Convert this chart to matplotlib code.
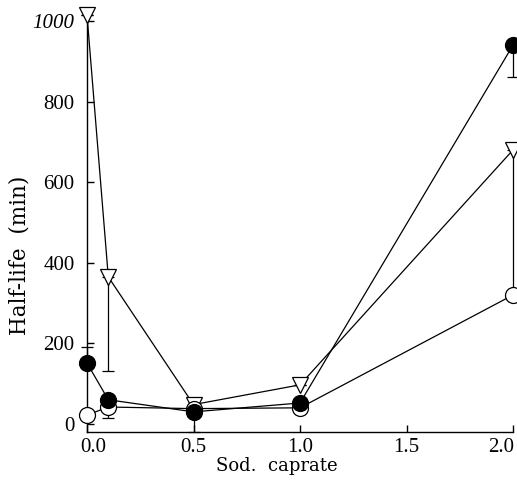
import matplotlib
matplotlib.use("Agg")
import matplotlib.pyplot as plt
import matplotlib.transforms as mt

x = [0.0, 0.1, 0.5, 1.0, 2.0]
filled = [151, 60, 30, 52, 940]
open_c = [22, 42, 38, 40, 320]
tri = [1015, 365, 48, 97, 680]

filled_lo = [0, 0, 50, 0, 79]
filled_hi = [40, 0, 0, 0, 0]
open_lo = [0, 27, 0, 0, 0]
tri_lo = [0, 234, 0, 0, 360]

xticks = [0.0, 0.5, 1.0, 1.5, 2.0]
yticks = [0, 200, 400, 600, 800, 1000]

plt.rcParams['font.family'] = ['Liberation Serif', 'DejaVu Serif']
W, H = 517, 483
fig = plt.figure(figsize=(W/100, H/100), dpi=100)
ax = fig.add_axes([87/W, (H-432)/H, 426/W, 411/H])

lw = 0.9
kw = dict(color='black', lw=lw, ms=11.5, mec='black', mew=0.9, capsize=4,
          elinewidth=lw, capthick=lw, clip_on=False)
ax.errorbar(x, tri, yerr=[tri_lo, [0]*5], marker='v', mfc='white', zorder=3, **kw)
ax.errorbar(x, open_c, yerr=[open_lo, [0]*5], marker='o', mfc='white', zorder=4, **kw)
ax.errorbar(x, filled, yerr=[filled_lo, filled_hi], marker='o', mfc='black', zorder=5, **kw)

ax.set_xlim(0, 2.0)
ax.set_ylim(-20, 1000)
ax.set_xticks(xticks)
ax.set_xticklabels(['0.0', '0.5', '1.0', '1.5', '2.0'])
ax.set_yticks(yticks)
ax.spines['top'].set_visible(False)
ax.spines['right'].set_visible(False)
for s in ('left', 'bottom'):
    ax.spines[s].set_linewidth(1.0)
ax.tick_params(direction='in', length=5, labelsize=15, width=1)
ax.tick_params(axis='x', pad=4)
ax.tick_params(axis='y', pad=9)

xl = ax.get_xticklabels()
xl[0].set_transform(xl[0].get_transform() + mt.ScaledTranslation(6/100, 0, fig.dpi_scale_trans))
xl[-1].set_transform(xl[-1].get_transform() + mt.ScaledTranslation(-12/100, 0, fig.dpi_scale_trans))
yl = ax.get_yticklabels()
yl[-1].set_fontstyle('italic')

fig.text(277/W, 1 - 466/H, 'Sod.  caprate', ha='center', va='center',
         fontsize=13, family=['DejaVu Serif'])
fig.text(20/W, 1 - 255/H, 'Half-life  (min)', ha='center', va='center',
         rotation=90, fontsize=15.5, family=['DejaVu Serif'])

fig.savefig('out.png', dpi=100)
